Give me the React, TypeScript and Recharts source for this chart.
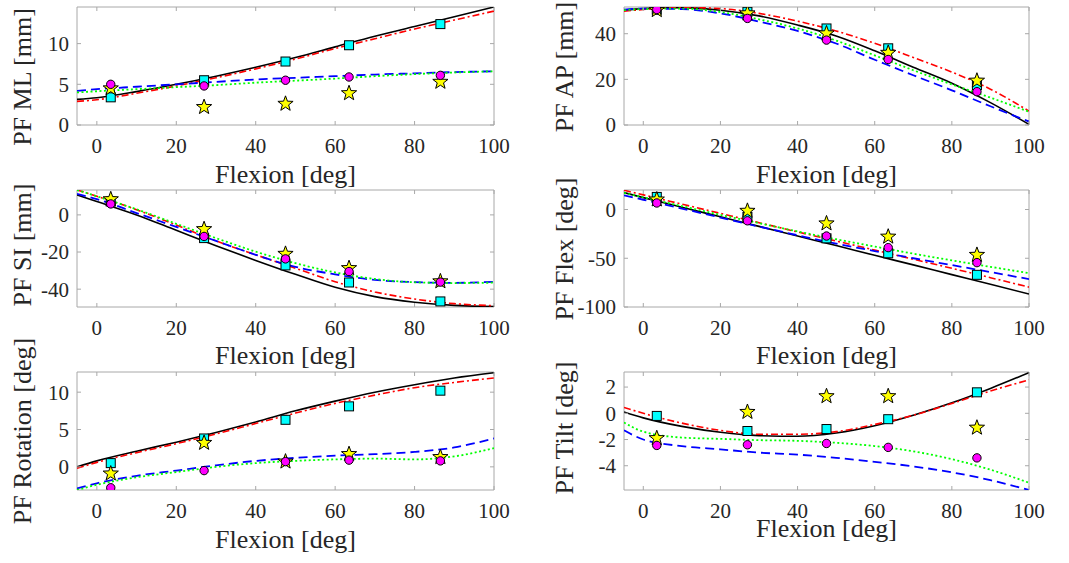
import React from 'react';
import { ComposedChart, Line, Scatter, XAxis, YAxis, ReferenceArea } from 'recharts';

// knee flexion grid for the model curves, and the flexion angles of the measured trials
const flexion = [-5, 0, 10, 20, 30, 40, 50, 60, 70, 80, 90, 100];
const trialFlexion = [3.5, 27, 47.5, 63.5, 86.5];
const xTicks = [0, 20, 40, 60, 80, 100];

// PF ML [mm]
const mlBlack = [3.15, 3.35, 4.1, 5.0, 6.0, 7.1, 8.3, 9.6, 10.9, 12.1, 13.3, 14.5];
const mlRed = [2.9, 3.1, 3.9, 4.8, 5.8, 6.9, 8.1, 9.4, 10.6, 11.8, 12.9, 14.0];
const mlBlue = [4.2, 4.4, 4.7, 5.0, 5.3, 5.6, 5.8, 6.0, 6.2, 6.35, 6.5, 6.6];
const mlGreen = [4.0, 4.15, 4.4, 4.65, 4.9, 5.2, 5.45, 5.7, 6.0, 6.25, 6.45, 6.6];
const mlSquare = [3.4, 5.5, 7.8, 9.8, 12.4];
const mlCircle = [5.0, 4.8, 5.5, 5.9, 6.1];
const mlStar = [4.5, 2.2, 2.6, 3.9, 5.3];

// PF AP [mm]
const apBlack = [50.3, 51.0, 51.4, 50.3, 47.8, 43.8, 39.0, 32.5, 25.3, 18.3, 9.8, 0.3];
const apRed = [49.9, 50.6, 51.5, 51.0, 48.9, 45.5, 41.2, 35.8, 29.6, 23.2, 15.7, 6.1];
const apBlue = [50.5, 51.0, 50.8, 48.9, 45.3, 41.2, 35.7, 28.6, 21.8, 15.2, 8.2, 1.5];
const apGreen = [50.3, 50.8, 51.0, 49.5, 46.3, 42.3, 37.0, 30.5, 24.0, 17.8, 12.0, 5.8];
const apSquare = [50.5, 49.6, 42.3, 33.6, 17.5];
const apCircle = [50.6, 46.7, 37.2, 28.7, 14.6];
const apStar = [50.3, 48.9, 40.1, 31.6, 19.4];

// PF SI [mm]
const siBlack = [10.8, 7.2, 0.0, -8.3, -16.6, -24.5, -32.0, -39.0, -44.0, -47.0, -48.7, -49.3];
const siRed = [13.4, 10.0, 2.8, -5.5, -14.0, -21.5, -28.7, -36.0, -41.5, -45.3, -47.8, -48.9];
const siBlue = [11.3, 8.5, 1.0, -6.5, -14.0, -21.5, -28.0, -32.0, -35.0, -36.2, -36.6, -36.0];
const siGreen = [13.4, 10.0, 3.0, -4.8, -12.5, -19.8, -26.0, -31.0, -34.5, -36.3, -36.7, -36.5];
const siSquare = [7.2, -12.5, -27.2, -36.4, -46.6];
const siCircle = [5.9, -11.6, -23.7, -30.5, -36.2];
const siStar = [8.4, -7.7, -21.0, -28.7, -35.8];

// PF Flex [deg]
const flBlack = [17.3, 12.2, 2.3, -7.5, -17.3, -27.2, -37.0, -47.0, -56.8, -66.8, -76.7, -86.7];
const flRed = [19.7, 15.0, 5.5, -4.0, -13.5, -23.0, -32.3, -41.6, -51.0, -60.3, -69.9, -79.6];
const flBlue = [14.6, 10.0, 1.0, -8.3, -17.5, -26.4, -35.0, -42.6, -50.0, -57.0, -64.2, -71.4];
const flGreen = [17.0, 12.5, 3.5, -5.5, -14.0, -22.5, -30.5, -38.0, -45.3, -52.2, -58.8, -65.3];
const flSquare = [12.9, -7.5, -29.6, -44.9, -67.0];
const flCircle = [6.7, -11.6, -27.2, -39.1, -54.5];
const flStar = [10.2, -1.4, -14.3, -27.9, -46.6];

// PF Rotation [deg]
const rotBlack = [0.0, 0.8, 2.1, 3.3, 4.6, 6.0, 7.5, 8.8, 10.0, 11.0, 11.9, 12.6];
const rotRed = [-0.2, 0.6, 1.9, 3.1, 4.4, 5.8, 7.2, 8.5, 9.6, 10.6, 11.3, 11.9];
const rotBlue = [-2.9, -2.2, -1.2, -0.5, 0.2, 0.8, 1.2, 1.5, 1.7, 2.0, 2.6, 3.8];
const rotGreen = [-3.1, -2.4, -1.4, -0.7, 0.0, 0.5, 0.8, 1.0, 1.1, 1.0, 1.4, 2.5];
const rotSquare = [0.5, 3.8, 6.3, 8.1, 10.2];
const rotCircle = [-2.8, -0.5, 0.7, 0.9, 0.8];
const rotStar = [-0.9, 3.2, 0.7, 1.7, 1.3];

// PF Tilt [deg]
const tiltBlack = [0.1, -0.35, -1.0, -1.45, -1.7, -1.75, -1.5, -0.95, -0.15, 0.8, 1.9, 3.1];
const tiltRed = [0.45, 0.0, -0.75, -1.3, -1.6, -1.6, -1.4, -0.85, -0.15, 0.75, 1.7, 2.55];
const tiltBlue = [-1.3, -2.0, -2.5, -2.75, -3.0, -3.15, -3.4, -3.7, -4.05, -4.5, -5.1, -5.85];
const tiltGreen = [-0.7, -1.4, -1.85, -1.95, -2.05, -2.1, -2.25, -2.5, -2.9, -3.5, -4.3, -5.3];
const tiltSquare = [-0.2, -1.35, -1.2, -0.45, 1.6];
const tiltCircle = [-2.45, -2.4, -2.3, -2.6, -3.4];
const tiltStar = [-1.9, 0.1, 1.3, 1.3, -1.1];

const boxColor = '#a8a8a8';
const textColor = '#262626';
const font = "'Liberation Serif', serif";
const X_MARGIN = 13;
const Y_MARGIN = 8;

const cols = [
  { left: 0, width: 530, axisW: 77, right: 36, labelX: 22 },
  { left: 530, width: 539, axisW: 94, right: 40, labelX: 564 },
];
// svg top, plot-area top and plot-area height of each row
const rows = [
  { top: 0, plotTop: 7, plotH: 118 },
  { top: 150, plotTop: 190, plotH: 117 },
  { top: 330, plotTop: 372, plotH: 118 },
];

const panels = [
  { label: 'PF ML [mm]', domain: [0, 14.5], ticks: [0, 5, 10], col: 0, row: 0, labelY: 77, xLabelGap: 58,
    black: mlBlack, red: mlRed, blue: mlBlue, green: mlGreen, square: mlSquare, circle: mlCircle, star: mlStar },
  { label: 'PF AP [mm]', domain: [0, 51.7], ticks: [0, 20, 40], col: 1, row: 0, labelY: 67, xLabelGap: 58,
    black: apBlack, red: apRed, blue: apBlue, green: apGreen, square: apSquare, circle: apCircle, star: apStar },
  { label: 'PF SI [mm]', domain: [-49.6, 13.4], ticks: [-40, -20, 0], col: 0, row: 1, labelY: 245, xLabelGap: 57,
    black: siBlack, red: siRed, blue: siBlue, green: siGreen, square: siSquare, circle: siCircle, star: siStar },
  { label: 'PF Flex [deg]', domain: [-100, 20], ticks: [-100, -50, 0], col: 1, row: 1, labelY: 249, xLabelGap: 57,
    black: flBlack, red: flRed, blue: flBlue, green: flGreen, square: flSquare, circle: flCircle, star: flStar },
  { label: 'PF Rotation [deg]', domain: [-3.1, 12.7], ticks: [0, 5, 10], col: 0, row: 2, labelY: 431, xLabelGap: 58,
    black: rotBlack, red: rotRed, blue: rotBlue, green: rotGreen, square: rotSquare, circle: rotCircle, star: rotStar },
  { label: 'PF Tilt [deg]', domain: [-5.85, 3.15], ticks: [-4, -2, 0, 2], col: 1, row: 2, labelY: 428, xLabelGap: 47,
    black: tiltBlack, red: tiltRed, blue: tiltBlue, green: tiltGreen, square: tiltSquare, circle: tiltCircle, star: tiltStar },
];

const curve = (vals: number[]) => flexion.map((x, i) => ({ x, v: vals[i] }));
const trials = (vals: number[]) => trialFlexion.map((x, i) => ({ x, v: vals[i] }));

const SquareMark = (props: any) => (
  <rect x={props.cx - 4.5} y={props.cy - 4.5} width={9} height={9} fill="#00ffff" stroke="#000" strokeWidth={1} />
);
const CircleMark = (props: any) => (
  <circle cx={props.cx} cy={props.cy} r={4.2} fill="#ff00ff" stroke="#000" strokeWidth={1} />
);
const StarMark = (props: any) => {
  const pts = [];
  for (let i = 0; i < 10; i++) {
    const a = (-90 + i * 36) * Math.PI / 180;
    const r = i % 2 === 0 ? 8 : 3.3;
    pts.push(`${props.cx + r * Math.cos(a)},${props.cy + r * Math.sin(a)}`);
  }
  return <polygon points={pts.join(' ')} fill="#ffff00" stroke="#000" strokeWidth={1} />;
};

function Panel({ p }: { p: any }) {
  const c = cols[p.col];
  const r = rows[p.row];
  const top = r.plotTop - r.top;
  const height = top + r.plotH + 75;
  const plotLeft = c.axisW;
  const plotRight = c.width - c.right;
  const plotBottom = top + r.plotH;

  const xTick = (props: any) => {
    const { x, y, payload } = props;
    const axisY = y - X_MARGIN;
    return (
      <g>
        <line x1={x} x2={x} y1={axisY} y2={axisY - 4} stroke={boxColor} />
        <line x1={x} x2={x} y1={top} y2={top + 4} stroke={boxColor} />
        <text x={x} y={y} dy="0.71em" textAnchor="middle" fontSize={21} fill={textColor} fontFamily={font}>
          {payload.value}
        </text>
      </g>
    );
  };
  const yTick = (props: any) => {
    const { x, y, payload } = props;
    const axisX = x + Y_MARGIN;
    return (
      <g>
        <line x1={axisX} x2={axisX + 4} y1={y} y2={y} stroke={boxColor} />
        <line x1={plotRight} x2={plotRight - 4} y1={y} y2={y} stroke={boxColor} />
        <text x={x} y={y} dy="0.35em" textAnchor="end" fontSize={21} fill={textColor} fontFamily={font}>
          {payload.value}
        </text>
      </g>
    );
  };
  const xLabel = () => (
    <text x={(plotLeft + plotRight) / 2} y={plotBottom + p.xLabelGap} textAnchor="middle" fontSize={26}
      fill={textColor} fontFamily={font}>
      Flexion [deg]
    </text>
  );
  const lx = c.labelX - c.left;
  const ly = p.labelY - r.top;
  const yLabel = () => (
    <text x={lx} y={ly} dy="0.35em" textAnchor="middle" fontSize={26} fill={textColor} fontFamily={font}
      transform={`rotate(-90, ${lx}, ${ly})`}>
      {p.label}
    </text>
  );

  return (
    <div style={{ position: 'absolute', left: c.left, top: r.top, width: c.width, height }}>
      <ComposedChart width={c.width} height={height} margin={{ top, right: c.right, bottom: 0, left: 0 }}>
        <XAxis type="number" dataKey="x" domain={[-5, 100]} ticks={xTicks} interval={0} allowDataOverflow
          height={75} tickSize={0} tickMargin={X_MARGIN} axisLine={false} tickLine={false} tick={xTick} label={xLabel} />
        <YAxis type="number" domain={p.domain} ticks={p.ticks} interval={0} allowDataOverflow
          width={c.axisW} tickSize={0} tickMargin={Y_MARGIN} axisLine={false} tickLine={false} tick={yTick} label={yLabel} />
        <ReferenceArea x1={-5} x2={100} y1={p.domain[0]} y2={p.domain[1]} fill="none" stroke={boxColor} strokeWidth={1} />
        <Line data={curve(p.black)} dataKey="v" type="monotone" stroke="#000000" strokeWidth={1.6} dot={false} activeDot={false} isAnimationActive={false} />
        <Line data={curve(p.red)} dataKey="v" type="monotone" stroke="#ff0000" strokeWidth={1.6} strokeDasharray="7 3 2 3" dot={false} activeDot={false} isAnimationActive={false} />
        <Line data={curve(p.blue)} dataKey="v" type="monotone" stroke="#0000ff" strokeWidth={1.8} strokeDasharray="9 5" dot={false} activeDot={false} isAnimationActive={false} />
        <Line data={curve(p.green)} dataKey="v" type="monotone" stroke="#00ff00" strokeWidth={1.8} strokeDasharray="2 2.5" dot={false} activeDot={false} isAnimationActive={false} />
        <Scatter data={trials(p.square)} dataKey="v" shape={SquareMark} isAnimationActive={false} />
        <Scatter data={trials(p.star)} dataKey="v" shape={StarMark} isAnimationActive={false} />
        <Scatter data={trials(p.circle)} dataKey="v" shape={CircleMark} isAnimationActive={false} />
      </ComposedChart>
    </div>
  );
}

export default function App() {
  return (
    <div style={{ position: 'absolute', left: 0, top: 0, width: 1069, height: 563, background: '#ffffff' }}>
      {panels.map((p) => (
        <Panel key={p.label} p={p} />
      ))}
    </div>
  );
}
